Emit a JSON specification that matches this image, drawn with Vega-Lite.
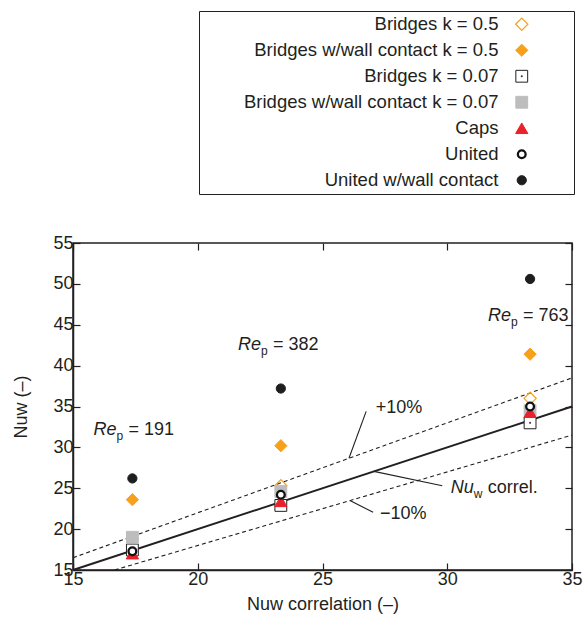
{
  "$schema": "https://vega.github.io/schema/vega-lite/v6.json",
  "width": 499,
  "height": 327,
  "autosize": "none",
  "padding": {"left": 73, "top": 243, "right": 12, "bottom": 47},
  "config": {
    "font": "Liberation Sans",
    "view": {"stroke": "#231f20", "strokeWidth": 1.5},
    "axis": {
      "grid": false,
      "labelFont": "Liberation Sans",
      "labelFontSize": 18,
      "labelColor": "#231f20",
      "titleFont": "Liberation Sans",
      "titleFontSize": 18,
      "titleFontWeight": "normal",
      "titleColor": "#231f20",
      "domainColor": "#231f20",
      "domainWidth": 1.5,
      "tickColor": "#231f20",
      "tickWidth": 1.2,
      "tickSize": -7,
      "labelPadding": 7,
      "labelFlush": false,
      "labelOverlap": false
    },
    "legend": {
      "orient": "none",
      "legendX": 126,
      "legendY": -232,
      "labelFont": "Liberation Sans",
      "labelFontSize": 18.5,
      "labelColor": "#231f20",
      "labelAlign": "right",
      "labelOffset": -32.5,
      "labelLimit": 500,
      "symbolOffset": 309.5,
      "rowPadding": 7,
      "padding": 4,
      "strokeColor": "#231f20",
      "strokeWidth": 1,
      "titleOrient": "right",
      "titlePadding": 39.5,
      "titleFontSize": 18,
      "titleFont": "Liberation Sans"
    }
  },
  "datasets": {
    "pts": [
      {"x": 17.38, "y": 18.8, "s": "Bridges k = 0.5"},
      {"x": 17.38, "y": 23.6, "s": "Bridges w/wall contact k = 0.5"},
      {"x": 17.38, "y": 17.45, "s": "Bridges k = 0.07"},
      {"x": 17.38, "y": 19.0, "s": "Bridges w/wall contact k = 0.07"},
      {"x": 17.38, "y": 17.0, "s": "Caps"},
      {"x": 17.38, "y": 17.3, "s": "United"},
      {"x": 17.38, "y": 26.2, "s": "United w/wall contact"},
      {"x": 23.33, "y": 25.3, "s": "Bridges k = 0.5"},
      {"x": 23.33, "y": 30.2, "s": "Bridges w/wall contact k = 0.5"},
      {"x": 23.33, "y": 22.9, "s": "Bridges k = 0.07"},
      {"x": 23.33, "y": 24.6, "s": "Bridges w/wall contact k = 0.07"},
      {"x": 23.33, "y": 23.4, "s": "Caps"},
      {"x": 23.33, "y": 24.2, "s": "United"},
      {"x": 23.33, "y": 37.2, "s": "United w/wall contact"},
      {"x": 33.32, "y": 36.0, "s": "Bridges k = 0.5"},
      {"x": 33.32, "y": 41.4, "s": "Bridges w/wall contact k = 0.5"},
      {"x": 33.32, "y": 33.0, "s": "Bridges k = 0.07"},
      {"x": 33.32, "y": 34.5, "s": "Bridges w/wall contact k = 0.07"},
      {"x": 33.32, "y": 34.3, "s": "Caps"},
      {"x": 33.32, "y": 35.0, "s": "United"},
      {"x": 33.32, "y": 50.6, "s": "United w/wall contact"}
    ],
    "lines": [
      {"line": "correl", "x": 15, "y": 15},
      {"line": "correl", "x": 35, "y": 35},
      {"line": "plus", "x": 15, "y": 16.5},
      {"line": "plus", "x": 35, "y": 38.5},
      {"line": "minus", "x": 16.667, "y": 15},
      {"line": "minus", "x": 35, "y": 31.5}
    ],
    "leaders": [
      {"x1": 26.06, "y1": 28.67, "x2": 26.75, "y2": 34.4},
      {"x1": 27.06, "y1": 27.06, "x2": 29.8, "y2": 25.3},
      {"x1": 26.1, "y1": 23.49, "x2": 27.03, "y2": 22.06}
    ],
    "labels": [
      {"x": 15.82, "y": 32.1, "main": "Re", "sub": "p", "rest": "= 191"},
      {"x": 21.61, "y": 42.48, "main": "Re", "sub": "p", "rest": "= 382"},
      {"x": 31.63, "y": 46.1, "main": "Re", "sub": "p", "rest": "= 763"}
    ],
    "nu": [
      {"x": 30.14, "y": 25.0, "main": "Nu", "sub": "w", "rest": "correl."}
    ],
    "pm": [
      {"x": 27.13, "y": 34.87, "t": "+10%"},
      {"x": 27.3, "y": 21.9, "t": "−10%"}
    ]
  },
  "layer": [
    {
      "data": {"name": "lines"},
      "transform": [{"filter": "datum.line === 'correl'"}],
      "mark": {"type": "line", "color": "#231f20", "strokeWidth": 2},
      "encoding": {
        "x": {"field": "x", "type": "quantitative", "scale": {"domain": [15, 35], "nice": false, "zero": false},
              "axis": {"orient": "bottom", "values": [15, 20, 25, 30, 35], "title": "Nuw correlation (–)", "titlePadding": 7}},
        "y": {"field": "y", "type": "quantitative", "scale": {"domain": [15, 55], "nice": false, "zero": false},
              "axis": {"orient": "left", "values": [15, 20, 25, 30, 35, 40, 45, 50, 55], "title": "Nuw (–)", "titlePadding": 22}}
      }
    },
    {
      "data": {"name": "lines"},
      "transform": [{"filter": "datum.line !== 'correl'"}],
      "mark": {"type": "line", "color": "#231f20", "strokeWidth": 1.1, "strokeDash": [4, 3]},
      "encoding": {
        "x": {"field": "x", "type": "quantitative", "axis": null},
        "y": {"field": "y", "type": "quantitative", "axis": null},
        "detail": {"field": "line"}
      }
    },
    {
      "data": {"name": "leaders"},
      "mark": {"type": "rule", "color": "#231f20", "strokeWidth": 1.1},
      "encoding": {
        "x": {"field": "x1", "type": "quantitative",
              "axis": {"orient": "top", "values": [15, 20, 25, 30, 35], "labels": false, "title": null, "domain": false}},
        "y": {"field": "y1", "type": "quantitative",
              "axis": {"orient": "right", "values": [15, 20, 25, 30, 35, 40, 45, 50, 55], "labels": false, "title": null, "domain": false}},
        "x2": {"field": "x2"},
        "y2": {"field": "y2"}
      }
    },
    {
      "data": {"name": "labels"},
      "mark": {"type": "text", "align": "left", "baseline": "middle", "fontSize": 18, "fontStyle": "italic", "color": "#231f20"},
      "encoding": {
        "x": {"field": "x", "type": "quantitative", "axis": null},
        "y": {"field": "y", "type": "quantitative", "axis": null},
        "text": {"field": "main"}
      }
    },
    {
      "data": {"name": "labels"},
      "mark": {"type": "text", "align": "left", "baseline": "middle", "fontSize": 12, "dx": 23, "dy": 6, "color": "#231f20"},
      "encoding": {
        "x": {"field": "x", "type": "quantitative", "axis": null},
        "y": {"field": "y", "type": "quantitative", "axis": null},
        "text": {"field": "sub"}
      }
    },
    {
      "data": {"name": "labels"},
      "mark": {"type": "text", "align": "left", "baseline": "middle", "fontSize": 18, "dx": 35, "color": "#231f20"},
      "encoding": {
        "x": {"field": "x", "type": "quantitative", "axis": null},
        "y": {"field": "y", "type": "quantitative", "axis": null},
        "text": {"field": "rest"}
      }
    },
    {
      "data": {"name": "nu"},
      "mark": {"type": "text", "align": "left", "baseline": "middle", "fontSize": 18, "fontStyle": "italic", "color": "#231f20"},
      "encoding": {
        "x": {"field": "x", "type": "quantitative", "axis": null},
        "y": {"field": "y", "type": "quantitative", "axis": null},
        "text": {"field": "main"}
      }
    },
    {
      "data": {"name": "nu"},
      "mark": {"type": "text", "align": "left", "baseline": "middle", "fontSize": 12, "dx": 23, "dy": 6, "color": "#231f20"},
      "encoding": {
        "x": {"field": "x", "type": "quantitative", "axis": null},
        "y": {"field": "y", "type": "quantitative", "axis": null},
        "text": {"field": "sub"}
      }
    },
    {
      "data": {"name": "nu"},
      "mark": {"type": "text", "align": "left", "baseline": "middle", "fontSize": 18, "dx": 37, "color": "#231f20"},
      "encoding": {
        "x": {"field": "x", "type": "quantitative", "axis": null},
        "y": {"field": "y", "type": "quantitative", "axis": null},
        "text": {"field": "rest"}
      }
    },
    {
      "data": {"name": "pm"},
      "mark": {"type": "text", "align": "left", "baseline": "middle", "fontSize": 18, "color": "#231f20"},
      "encoding": {
        "x": {"field": "x", "type": "quantitative", "axis": null},
        "y": {"field": "y", "type": "quantitative", "axis": null},
        "text": {"field": "t"}
      }
    },
    {
      "data": {"name": "pts"},
      "mark": {"type": "point", "filled": false, "opacity": 1},
      "encoding": {
        "x": {"field": "x", "type": "quantitative", "axis": null},
        "y": {"field": "y", "type": "quantitative", "axis": null},
        "shape": {"field": "s", "type": "nominal", "title": " ",
                  "scale": {"domain": ["Bridges k = 0.5", "Bridges w/wall contact k = 0.5", "Bridges k = 0.07", "Bridges w/wall contact k = 0.07", "Caps", "United", "United w/wall contact"],
                            "range": ["diamond", "diamond", "M-1,-1H1V1H-1Z M-0.08,-0.08H0.08V0.08H-0.08Z", "square", "triangle-up", "circle", "circle"]}},
        "fill": {"field": "s", "type": "nominal", "title": " ",
                 "scale": {"domain": ["Bridges k = 0.5", "Bridges w/wall contact k = 0.5", "Bridges k = 0.07", "Bridges w/wall contact k = 0.07", "Caps", "United", "United w/wall contact"],
                           "range": ["transparent", "#f7a11a", "white", "#bdbdbd", "#e8212b", "white", "#1e1e1e"]}},
        "stroke": {"field": "s", "type": "nominal", "title": " ",
                   "scale": {"domain": ["Bridges k = 0.5", "Bridges w/wall contact k = 0.5", "Bridges k = 0.07", "Bridges w/wall contact k = 0.07", "Caps", "United", "United w/wall contact"],
                             "range": ["#f7a11a", "#f7a11a", "#231f20", "#bdbdbd", "#e8212b", "#111111", "#1e1e1e"]}},
        "size": {"field": "s", "type": "nominal", "title": " ",
                 "scale": {"type": "ordinal", "domain": ["Bridges k = 0.5", "Bridges w/wall contact k = 0.5", "Bridges k = 0.07", "Bridges w/wall contact k = 0.07", "Caps", "United", "United w/wall contact"],
                           "range": [150, 150, 140, 140, 150, 60, 85]}},
        "strokeWidth": {"field": "s", "type": "nominal", "title": " ",
                        "scale": {"type": "ordinal", "domain": ["Bridges k = 0.5", "Bridges w/wall contact k = 0.5", "Bridges k = 0.07", "Bridges w/wall contact k = 0.07", "Caps", "United", "United w/wall contact"],
                                  "range": [1.2, 1, 1, 1, 1, 2.3, 1]}}
      }
    }
  ],
  "resolve": {"axis": {"x": "independent", "y": "independent"}}
}
